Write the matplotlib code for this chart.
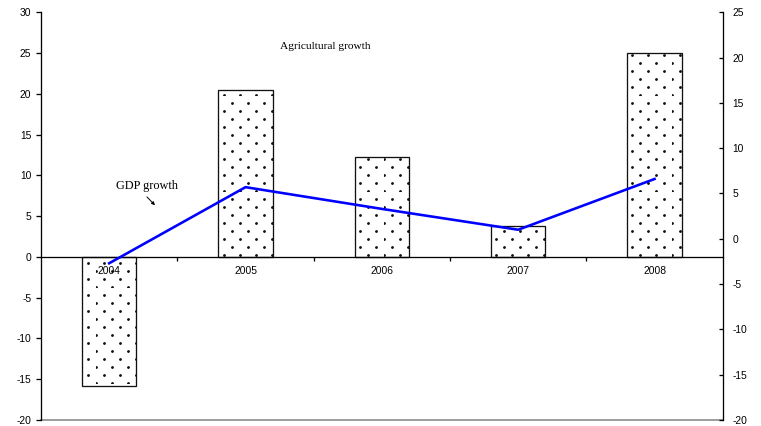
import matplotlib
matplotlib.use("Agg")
import matplotlib.pyplot as plt
import matplotlib.hatch as mhatch
from matplotlib.path import Path
import numpy as np

years = ["2004", "2005", "2006", "2007", "2008"]
agri_growth = [-15.8, 20.5, 12.3, 3.8, 25.0]
gdp_growth = [-2.7, 5.7, 3.3, 1.0, 6.6]

left_ticks = list(range(-20, 31, 5))
right_ticks = list(range(-20, 26, 5))

DPI = 96
PT = 72 / DPI  # points per pixel


class StaggeredDots(mhatch.HatchPatternBase):
    """'.' hatch: small filled dots, rows twice as dense as columns, staggered."""
    radius = 0.95 / DPI
    nudge = 0.5 / DPI

    def __init__(self, hatch, density):
        n = hatch.count('.') * density
        self.n = n
        circle = Path.unit_circle()
        self.shape_vertices = circle.vertices
        self.shape_codes = circle.codes
        centers = []
        if n:
            step = 1.0 / n
            for r in range(2 * n):
                y = r * step / 2
                if r % 2 == 0:
                    xs = np.arange(n) * step
                else:
                    xs = np.arange(n) * step + step / 2
                centers += [(xx, y) for xx in xs]
        self.centers = np.array(centers).reshape(-1, 2) + self.nudge
        self.num_vertices = len(self.centers) * len(self.shape_vertices)

    def set_vertices_and_codes(self, vertices, codes):
        k = len(self.shape_vertices)
        shape = self.shape_vertices * self.radius
        cursor = 0
        for cx, cy in self.centers:
            vertices[cursor:cursor + k] = shape + (cx, cy)
            codes[cursor:cursor + k] = self.shape_codes
            cursor += k


# the '.' hatch is handled by the staggered dot pattern above
mhatch._hatch_types = [StaggeredDots if t is mhatch.SmallFilledCircles else t
                       for t in mhatch._hatch_types]

plt.rcParams["hatch.linewidth"] = 0.6
plt.rcParams["hatch.color"] = "#1a1a1a"

fig = plt.figure(figsize=(761 / DPI, 426 / DPI), dpi=DPI)
ax = fig.add_axes([41 / 761, 1 - 420 / 426, (722.7 - 41) / 761, (420 - 12.3) / 426])
ax.set_axisbelow(False)
x = np.arange(len(years))

ax.bar(x, agri_growth, width=0.4, facecolor="white", edgecolor="#111111",
       linewidth=1.3 * PT, hatch=".", zorder=2)
ax.set_xlim(-0.5, len(years) - 0.5)
ax.set_ylim(-20, 30)
ax.set_yticks(left_ticks)
ax.set_yticklabels([str(t) for t in left_ticks])

# category axis sits on the zero line
ax.spines["bottom"].set_position(("data", 0))
ax.spines["top"].set_visible(False)
ax.spines["right"].set_visible(False)
for s in ("left", "bottom"):
    ax.spines[s].set_linewidth(1.3 * PT)
    ax.spines[s].set_color("black")
ax.spines["bottom"].set_zorder(3)

label_pt = 10.2 * PT
ax.set_xticks(x)
ax.set_xticklabels(years)
ax.set_xticks(x[:-1] + 0.5, minor=True)
ax.tick_params(axis="x", which="major", length=0, pad=9 * PT, labelsize=label_pt,
               labelfontfamily="Liberation Sans")
ax.tick_params(axis="x", which="minor", length=4 * PT, width=1.3 * PT, direction="out")
ax.tick_params(axis="y", length=5 * PT, width=1.3 * PT, direction="out", pad=4.6 * PT,
               labelsize=label_pt, labelfontfamily="Liberation Sans")

# lower frame edge
ax.axhline(-20, color="#808080", linewidth=1.5 * PT, clip_on=False, zorder=1)

ax2 = ax.twinx()
ax2.plot(x, gdp_growth, color="#0000ff", linewidth=2.6 * PT, zorder=4)
ax2.set_ylim(-20, 25)
ax2.set_yticks(right_ticks)
ax2.set_yticklabels([str(t) for t in right_ticks])
for s in ("left", "top", "bottom"):
    ax2.spines[s].set_visible(False)
ax2.spines["right"].set_linewidth(1.3 * PT)
ax2.tick_params(axis="y", length=4 * PT, width=1.3 * PT, direction="in", pad=9.6 * PT,
                labelsize=label_pt, labelfontfamily="Liberation Sans")

ax.text(1.585, 25.75, "Agricultural growth", ha="center", va="center",
        fontsize=11.4 * PT, family="Liberation Serif", zorder=5)
ax.text(0.277, 8.7, "GDP growth", ha="center", va="center",
        fontsize=12.2 * PT, family="Liberation Serif", zorder=5)
ax.annotate("", xy=(0.336, 6.34), xytext=(0.277, 7.36),
            arrowprops=dict(arrowstyle="-|>", color="black", lw=1.0 * PT,
                            mutation_scale=6.5 * PT, shrinkA=0, shrinkB=0),
            zorder=5)

fig.savefig("out.png", dpi=DPI)
